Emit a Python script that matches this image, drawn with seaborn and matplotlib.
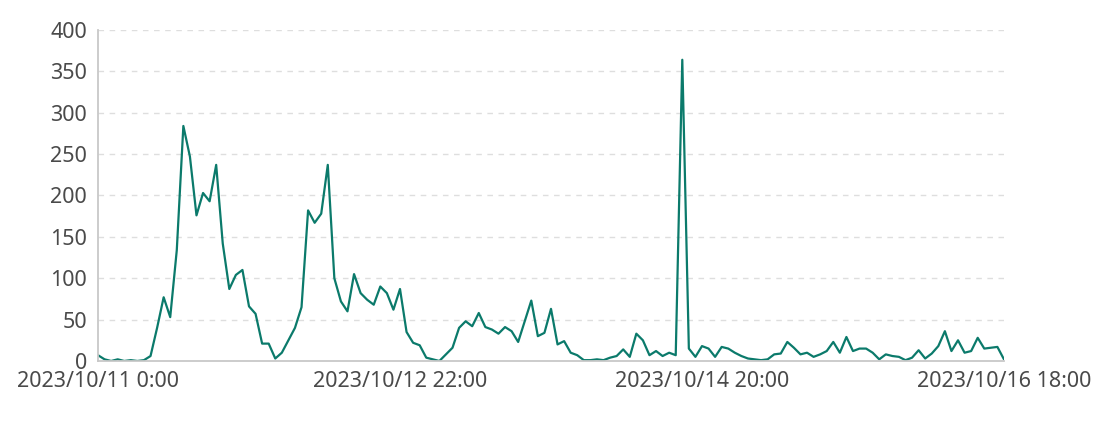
import numpy as np
import pandas as pd
import seaborn as sns
import matplotlib.pyplot as plt

# hourly values, starting 2023/10/11 0:00
values = [
    7, 2, 0, 2, 0, 1, 0, 1, 6, 40,
    77, 53, 134, 284, 247, 176, 203, 193, 237, 142,
    87, 104, 110, 66, 57, 21, 21, 3, 10, 25,
    40, 65, 182, 167, 178, 237, 100, 72, 60, 105,
    82, 74, 68, 90, 82, 62, 87, 35, 22, 19,
    4, 2, 0, 8, 16, 40, 48, 42, 58, 41,
    38, 33, 41, 36, 23, 48, 73, 30, 34, 63,
    20, 24, 10, 7, 1, 1, 2, 1, 4, 6,
    14, 5, 33, 25, 7, 12, 6, 10, 7, 364,
    15, 5, 18, 15, 5, 17, 15, 10, 6, 3,
    2, 1, 2, 8, 9, 23, 16, 8, 10, 5,
    8, 12, 23, 10, 29, 12, 15, 15, 10, 2,
    8, 6, 5, 1, 4, 13, 3, 9, 18, 36,
    12, 25, 10, 12, 28, 15, 16, 17, 2,
]
start = '2023-10-11 00:00'
tick_hours = [0, 46, 92, 138]
tick_labels = ['2023/10/11 0:00', '2023/10/12 22:00', '2023/10/14 20:00', '2023/10/16 18:00']
y_ticks = [0, 50, 100, 150, 200, 250, 300, 350, 400]

times = pd.date_range(start, periods=len(values), freq='h')
df = pd.DataFrame({'time': times, 'value': values})

sns.set_theme(style='white')
plt.rcParams['font.family'] = ['Noto Sans', 'DejaVu Sans']

line_color = '#0b7a6b'
text_color = '#4a4a4a'
axis_color = '#c8c8c8'

fig = plt.figure(figsize=(11, 4.3), dpi=100)
ax = fig.add_axes([0.0891, 0.1605, 0.8236, 0.7698])

sns.lineplot(data=df, x='time', y='value', ax=ax, color=line_color, linewidth=1.6)
ax.lines[0].set_solid_joinstyle('round')

ax.set_xlim(times[0], times[-1])
ax.set_ylim(0, 400)
ax.set_yticks(y_ticks)
ax.set_yticklabels([str(v) for v in y_ticks])
ax.set_xticks([times[h] for h in tick_hours])
ax.set_xticklabels(tick_labels)
ax.set_xlabel('')
ax.set_ylabel('')

for y in y_ticks[1:]:
    ax.axhline(y, color='#dedede', linestyle=(0, (4, 4)), linewidth=1, zorder=0)

for s in ['top', 'right']:
    ax.spines[s].set_visible(False)
for s in ['left', 'bottom']:
    ax.spines[s].set_color(axis_color)
    ax.spines[s].set_linewidth(1.3)

ax.tick_params(axis='both', colors=axis_color, length=5, width=1.2, direction='out',
               labelcolor=text_color, labelsize=15.5, pad=3)
ax.tick_params(axis='x', pad=2)

fig.savefig('out.png', dpi=100)
